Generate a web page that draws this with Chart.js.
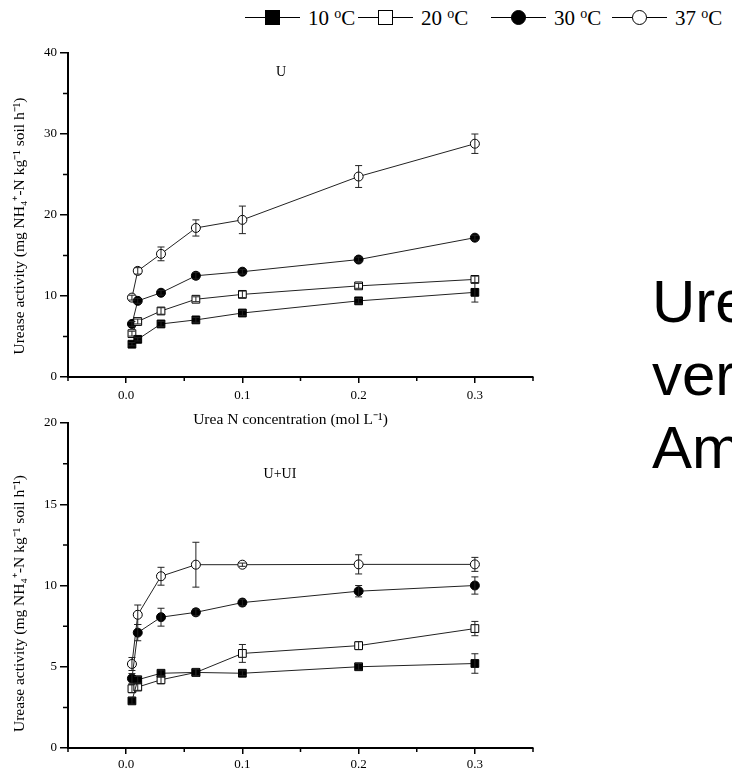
<!DOCTYPE html>
<html>
<head>
<meta charset="utf-8">
<script src="https://cdn.jsdelivr.net/npm/chart.js@4"></script>
<style>
  body { margin: 0; background: #fff; width: 732px; height: 770px; overflow: hidden; position: relative; font-family: "Liberation Serif", serif; }
  canvas { position: absolute; left: 0; }
  #top { top: 0; }
  #bottom { top: 400px; }
  .legend-item { position: absolute; top: 4px; height: 28px; display: flex; align-items: center; font-size: 21px; color: #000; white-space: nowrap; }
  .sample { position: relative; width: 55px; height: 28px; margin-right: 8px; flex: none; }
  .sample::before { content: ""; position: absolute; left: 0; right: 0; top: 13px; border-top: 1.5px solid #000; }
  .mark { position: absolute; left: 20px; top: 6px; width: 13px; height: 13px; border: 1.5px solid #000; box-sizing: content-box; }
  .mark.filled { background: #000; }
  .mark.open { background: #fff; }
  .mark.round { border-radius: 50%; }
  .label { white-space: pre; }
  .label sup { font-size: 14px; vertical-align: 7px; line-height: 0; }
  .panel { position: absolute; font-size: 14px; transform: translate(-50%, -50%); }
  #side { position: absolute; left: 652px; top: 265px; font-family: "Liberation Sans", Arial, sans-serif; font-size: 60px; line-height: 73px; color: #000; }
</style>
</head>
<body>
<div class="legend-item" style="left:245px"><span class="sample"><span class="mark filled"></span></span><span class="label">10 <sup>o</sup>C</span></div>
<div class="legend-item" style="left:358px"><span class="sample"><span class="mark open"></span></span><span class="label">20 <sup>o</sup>C</span></div>
<div class="legend-item" style="left:491px"><span class="sample"><span class="mark filled round"></span></span><span class="label">30 <sup>o</sup>C</span></div>
<div class="legend-item" style="left:612px"><span class="sample"><span class="mark open round"></span></span><span class="label">37 <sup>o</sup>C</span></div>

<canvas id="top" width="560" height="440"></canvas>
<canvas id="bottom" width="560" height="370"></canvas>

<div class="panel" style="left:281px; top:72px">U</div>
<div class="panel" style="left:280px; top:474px">U+UI</div>

<div id="side">Ure<br>ver<br>Am</div>

<script>
// urea N concentration (mol/L)
var ureaN = [0.005, 0.01, 0.03, 0.06, 0.1, 0.2, 0.3];

// U treatment
var u10 = [4.05, 4.65, 6.55, 7.05, 7.9, 9.4, 10.45];
var u10Err = [0.2, 0.2, 0.3, 0.3, 0.3, 0.3, 1.2];
var u20 = [5.35, 6.85, 8.15, 9.6, 10.2, 11.25, 12.05];
var u20Err = [0.3, 0.3, 0.4, 0.3, 0.4, 0.3, 0.4];
var u30 = [6.55, 9.4, 10.4, 12.5, 13.0, 14.5, 17.2];
var u30Err = [0.3, 0.3, 0.3, 0.4, 0.3, 0.3, 0.3];
var u37 = [9.8, 13.1, 15.2, 18.4, 19.4, 24.75, 28.8];
var u37Err = [0.3, 0.4, 0.85, 1.0, 1.7, 1.35, 1.2];

// U+UI treatment
var ui10 = [2.9, 4.2, 4.6, 4.65, 4.6, 5.0, 5.2];
var ui10Err = [0.2, 0.2, 0.2, 0.2, 0.15, 0.2, 0.6];
var ui20 = [3.65, 3.75, 4.2, 4.65, 5.82, 6.3, 7.35];
var ui20Err = [0.25, 0.2, 0.25, 0.25, 0.55, 0.25, 0.44];
var ui30 = [4.28, 7.1, 8.05, 8.35, 8.95, 9.65, 10.0];
var ui30Err = [0.3, 0.5, 0.55, 0.2, 0.2, 0.35, 0.53];
var ui37 = [5.17, 8.2, 10.57, 11.28, 11.28, 11.3, 11.3];
var ui37Err = [0.4, 0.6, 0.55, 1.38, 0.1, 0.59, 0.43];

// ticks
var xTicks = [0, 0.1, 0.2, 0.3];
var xMinor = [-0.05, 0.05, 0.15, 0.25, 0.35];
var yTicksU = [0, 10, 20, 30, 40];
var yMinorU = [5, 15, 25, 35];
var yTicksUI = [0, 5, 10, 15, 20];
var yMinorUI = [2.5, 7.5, 12.5, 17.5];

var yTitle = 'Urease activity (mg NH\u2084\u207A-N kg\u207B\u00B9 soil h\u207B\u00B9)';
var xTitle = 'Urea N concentration (mol L\u207B\u00B9)';

var serif = 'Liberation Serif';

var errorBars = {
    id: 'errorBars',
    afterDatasetsDraw: function(chart) {
        var ctx = chart.ctx;
        var y = chart.scales.y;
        ctx.save();
        ctx.strokeStyle = '#222';
        ctx.lineWidth = 1;
        chart.data.datasets.forEach(function(ds, i) {
            var meta = chart.getDatasetMeta(i);
            meta.data.forEach(function(pt, j) {
                var v = ds.data[j].y, e = ds.errors[j];
                var top = y.getPixelForValue(v + e);
                var bot = y.getPixelForValue(v - e);
                var x = pt.x;
                ctx.beginPath();
                ctx.moveTo(x, top); ctx.lineTo(x, bot);
                ctx.moveTo(x - 3.5, top); ctx.lineTo(x + 3.5, top);
                ctx.moveTo(x - 3.5, bot); ctx.lineTo(x + 3.5, bot);
                ctx.stroke();
            });
        });
        ctx.restore();
    }
};

// minor ticks + axis titles placed like the original figure
var axisExtras = {
    id: 'axisExtras',
    afterDraw: function(chart, args, opts) {
        var ctx = chart.ctx;
        var x = chart.scales.x, y = chart.scales.y;
        var area = chart.chartArea;
        ctx.save();
        ctx.strokeStyle = '#000';
        ctx.lineWidth = 1.5;
        ctx.beginPath();
        opts.x.forEach(function(v) {
            var px = x.getPixelForValue(v);
            ctx.moveTo(px, x.top); ctx.lineTo(px, x.top + 4);
        });
        opts.y.forEach(function(v) {
            var py = y.getPixelForValue(v);
            ctx.moveTo(y.right, py); ctx.lineTo(y.right - 5, py);
        });
        ctx.stroke();

        ctx.fillStyle = '#000';
        ctx.font = '15.5px "' + serif + '"';
        ctx.textAlign = 'center';
        ctx.textBaseline = 'middle';
        ctx.save();
        ctx.translate(20, (area.top + area.bottom) / 2 + opts.yShift);
        ctx.rotate(-Math.PI / 2);
        ctx.fillText(yTitle, 0, 0);
        ctx.restore();
        if (opts.xTitle) {
            ctx.fillText(xTitle, (area.left + area.right) / 2 - 10, area.bottom + 43);
        }
        ctx.restore();
    }
};

function series(values, errors, filled, style) {
    return {
        data: values.map(function(v, i) { return {x: ureaN[i], y: v}; }),
        errors: errors,
        borderColor: '#222',
        borderWidth: 1,
        pointStyle: style,
        pointRadius: style === 'rect' ? 5.5 : 4.5,
        pointBackgroundColor: filled ? '#000' : '#fff',
        pointBorderColor: '#000',
        pointBorderWidth: 1,
        tension: 0
    };
}

function makeChart(id, datasets, yMax, yTicks, yMinor, padTop, xHeight, showXTitle, labelPad, yShift) {
    var ctx = document.getElementById(id).getContext('2d');
    return new Chart(ctx, {
        type: 'line',
        data: { datasets: datasets },
        plugins: [errorBars, axisExtras],
        options: {
            responsive: false,
            animation: false,
            layout: { padding: { left: 0, top: padTop, right: 27, bottom: 0 } },
            plugins: {
                legend: { display: false },
                tooltip: { enabled: false },
                axisExtras: { x: xMinor, y: yMinor, xTitle: showXTitle, yShift: yShift }
            },
            scales: {
                x: {
                    type: 'linear',
                    min: -0.05,
                    max: 0.35,
                    afterBuildTicks: function(s) { s.ticks = xTicks.map(function(v) { return {value: v}; }); },
                    afterFit: function(s) { s.height = xHeight; },
                    border: { display: true, width: 2, color: '#000' },
                    grid: { drawOnChartArea: false, drawTicks: true, tickLength: 6, color: '#000', lineWidth: 1.5 },
                    ticks: {
                        color: '#000',
                        padding: labelPad,
                        maxRotation: 0,
                        font: { family: serif, size: 13 },
                        callback: function(v) { return v.toFixed(1); }
                    }
                },
                y: {
                    type: 'linear',
                    min: 0,
                    max: yMax,
                    afterBuildTicks: function(s) { s.ticks = yTicks.map(function(v) { return {value: v}; }); },
                    afterFit: function(s) { s.width = 68; },
                    border: { display: true, width: 2, color: '#000' },
                    grid: { drawOnChartArea: false, drawTicks: true, tickLength: 8, color: '#000', lineWidth: 1.5 },
                    ticks: {
                        color: '#000',
                        padding: 3,
                        font: { family: serif, size: 13 }
                    }
                }
            }
        }
    });
}

window.onload = function() {
    makeChart('top', [
        series(u10, u10Err, true, 'rect'),
        series(u20, u20Err, false, 'rect'),
        series(u30, u30Err, true, 'circle'),
        series(u37, u37Err, false, 'circle')
    ], 40, yTicksU, yMinorU, 53, 63, true, 5, 11);

    makeChart('bottom', [
        series(ui10, ui10Err, true, 'rect'),
        series(ui20, ui20Err, false, 'rect'),
        series(ui30, ui30Err, true, 'circle'),
        series(ui37, ui37Err, false, 'circle')
    ], 20, yTicksUI, yMinorUI, 23, 22, false, 3, 18);
};
</script>
</body>
</html>
